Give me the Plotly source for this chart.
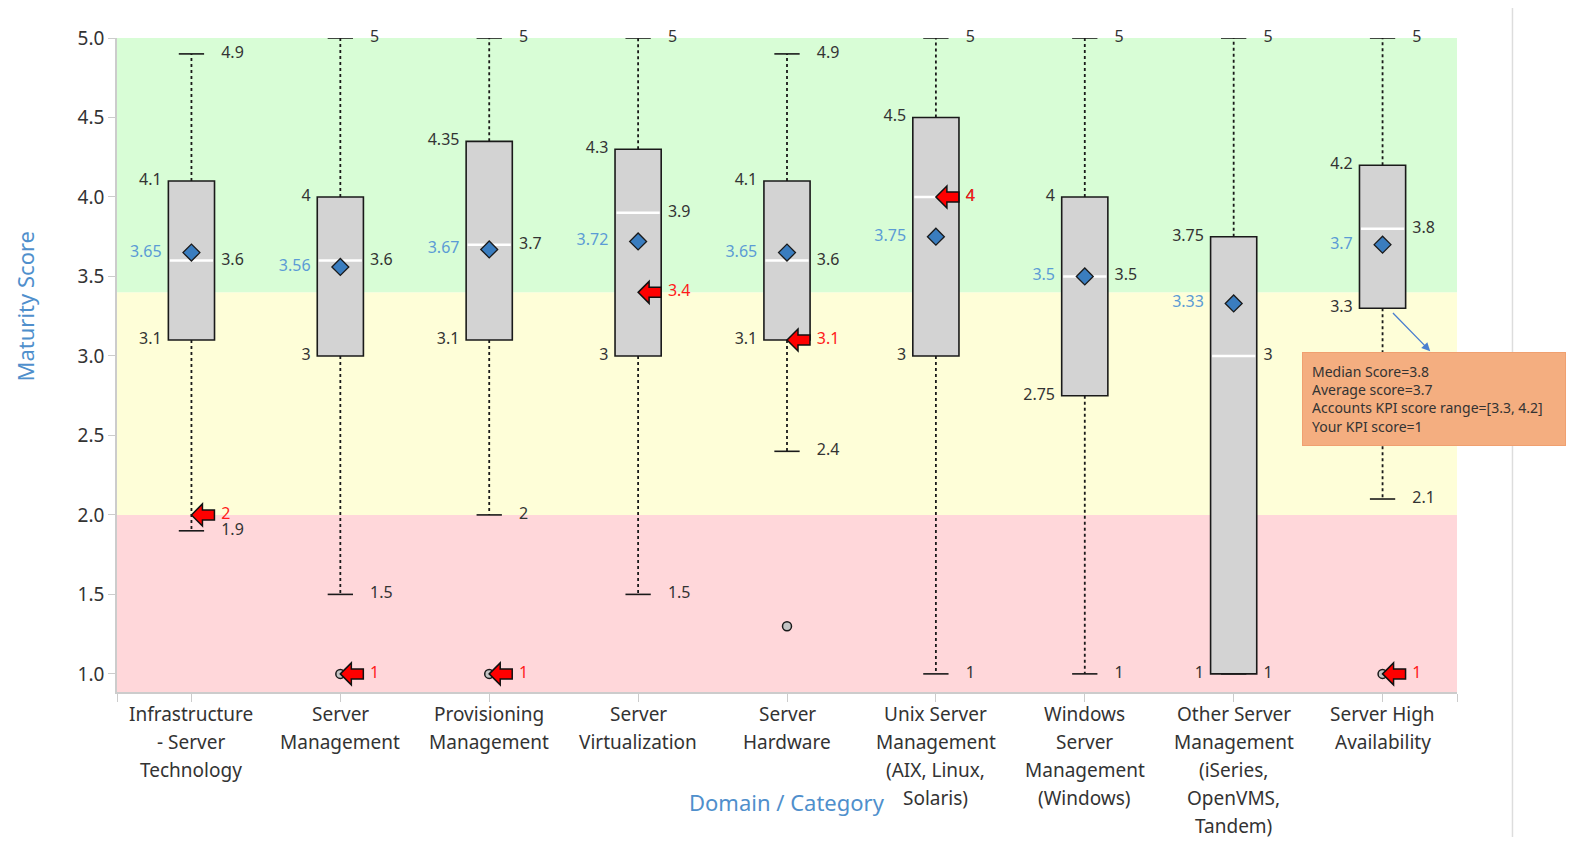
import plotly.graph_objects as go

# box statistics per domain
categories = [
    ["Infrastructure", "- Server", "Technology"],
    ["Server", "Management"],
    ["Provisioning", "Management"],
    ["Server", "Virtualization"],
    ["Server", "Hardware"],
    ["Unix Server", "Management", "(AIX, Linux,", "Solaris)"],
    ["Windows", "Server", "Management", "(Windows)"],
    ["Other Server", "Management", "(iSeries,", "OpenVMS,", "Tandem)"],
    ["Server High", "Availability"],
]
lower = [1.9, 1.5, 2.0, 1.5, 2.4, 1.0, 1.0, 1.0, 2.1]
q1 = [3.1, 3.0, 3.1, 3.0, 3.1, 3.0, 2.75, 1.0, 3.3]
median = [3.6, 3.6, 3.7, 3.9, 3.6, 4.0, 3.5, 3.0, 3.8]
q3 = [4.1, 4.0, 4.35, 4.3, 4.1, 4.5, 4.0, 3.75, 4.2]
upper = [4.9, 5.0, 5.0, 5.0, 4.9, 5.0, 5.0, 5.0, 5.0]
mean = [3.65, 3.56, 3.67, 3.72, 3.65, 3.75, 3.5, 3.33, 3.7]
kpi = [2, 1, 1, 3.4, 3.1, 4, None, None, 1]
outliers = [None, 1.0, 1.0, None, 1.3, None, None, None, 1.0]

# maturity bands: edges and colours (red / yellow / green)
band_edges = [0.886, 2.0, 3.4, 5.0]
band_colors = ["#ffd7da", "#fefed8", "#d8fdd6"]

y_ticks = [1.0, 1.5, 2.0, 2.5, 3.0, 3.5, 4.0, 4.5, 5.0]

DARK = "#333333"
BLUE = "#5b9bd5"
RED = "#ff1a1a"
TITLE_BLUE = "#4f8fcc"
FONT = "Noto Sans"

n = len(categories)
xs = list(range(n))
half = 0.155
cap = 0.085


def fmt(v):
    return f"{v:g}"


fig = go.Figure()

# boxes
fig.add_trace(go.Bar(
    x=xs, y=[b - a for a, b in zip(q1, q3)], base=q1, width=2 * half,
    marker=dict(color="#d3d3d3", line=dict(color="#1a1a1a", width=1.6)),
    hoverinfo="skip", showlegend=False,
))

# whiskers (dashed), caps and medians
wx, wy, cx, cy, mx, my = [], [], [], [], [], []
for i in xs:
    wx += [i, i, None, i, i, None]
    wy += [q3[i], upper[i], None, q1[i], lower[i], None]
    cx += [i - cap, i + cap, None, i - cap, i + cap, None]
    cy += [upper[i], upper[i], None, lower[i], lower[i], None]
    mx += [i - half + 0.01, i + half - 0.01, None]
    my += [median[i], median[i], None]
fig.add_trace(go.Scatter(x=wx, y=wy, mode="lines", cliponaxis=False,
                         line=dict(color="#1a1a1a", width=1.8, dash="3px,3px"),
                         hoverinfo="skip", showlegend=False))
fig.add_trace(go.Scatter(x=cx, y=cy, mode="lines", cliponaxis=False,
                         line=dict(color="#1a1a1a", width=1.6),
                         hoverinfo="skip", showlegend=False))
fig.add_trace(go.Scatter(x=mx, y=my, mode="lines",
                         line=dict(color="white", width=2.5),
                         hoverinfo="skip", showlegend=False))

# outliers
fig.add_trace(go.Scatter(
    x=[i for i in xs if outliers[i] is not None],
    y=[v for v in outliers if v is not None],
    mode="markers", marker=dict(symbol="circle", size=9, color="#c4c4c4",
                                line=dict(color="#1a1a1a", width=1.5)),
    showlegend=False,
))

# means
fig.add_trace(go.Scatter(
    x=xs, y=mean, mode="markers",
    marker=dict(symbol="diamond", size=13, color="#3a7dbf",
                line=dict(color="#1a1a1a", width=1.3)),
    showlegend=False,
))

# value labels
right_off = 0.2
left_off = -0.2


def labels(x, y, txt, pos, color):
    fig.add_trace(go.Scatter(
        x=x, y=y, text=txt, mode="text", textposition=pos, cliponaxis=False,
        textfont=dict(family=FONT, size=16, color=color),
        hoverinfo="skip", showlegend=False,
    ))


labels([i + right_off for i in xs], upper, [fmt(v) for v in upper], "middle right", DARK)
labels([i + right_off for i in xs], median, [fmt(v) for v in median], "middle right", DARK)
labels([i + right_off for i in xs], lower, [fmt(v) for v in lower], "middle right", DARK)
labels([i + left_off for i in xs], q3, [fmt(v) for v in q3], "middle left", DARK)
labels([i + left_off for i in xs], q1, [fmt(v) for v in q1], "middle left", DARK)
labels([i + left_off for i in xs], mean, [fmt(v) for v in mean], "middle left", BLUE)
kx = [i for i in xs if kpi[i] is not None]
ky = [kpi[i] for i in kx]
labels([i + right_off for i in kx], ky, [fmt(v) for v in ky], "middle right", RED)

shapes = []
for lo, hi, col in zip(band_edges[:-1], band_edges[1:], band_colors):
    shapes.append(dict(type="rect", xref="paper", yref="y", x0=0, x1=1, y0=lo, y1=hi,
                       fillcolor=col, line=dict(width=0), layer="below"))

# KPI arrows (block arrow glyph anchored at the score)
arrow_path = "M 0 0 L 11 11 L 11 5 L 23 5 L 23 -5 L 11 -5 L 11 -11 Z"
for i, v in zip(kx, ky):
    shapes.append(dict(type="path", xref="x", yref="y", xsizemode="pixel", ysizemode="pixel",
                       xanchor=i, yanchor=v, path=arrow_path, fillcolor="#ff0000",
                       line=dict(color="#111111", width=1.5), layer="above"))

# right-hand panel divider
shapes.append(dict(type="line", xref="paper", yref="paper", x0=1.0414, x1=1.0414,
                   y0=-0.25, y1=1.06, line=dict(color="#dddddd", width=1.5)))

ha = n - 1
tip_text = (f"Median Score={fmt(median[ha])}<br>Average score={fmt(mean[ha])}<br>"
            f"Accounts KPI score range=[{fmt(q1[ha])}, {fmt(q3[ha])}]<br>"
            f"Your KPI score={fmt(kpi[ha])}")

annotations = [
    dict(text="Domain / Category", xref="paper", yref="paper", x=0.5, y=-0.168,
         xanchor="center", yanchor="middle",
         showarrow=False, font=dict(family=FONT, size=22, color=TITLE_BLUE)),
    dict(text="Maturity Score", xref="paper", yref="paper", x=-0.0684, y=0.59,
         xanchor="center", yanchor="middle",
         textangle=-90, showarrow=False, font=dict(family=FONT, size=22, color=TITLE_BLUE)),
    dict(text="", x=ha + 0.32, y=3.03, ax=ha + 0.06, ay=q1[ha] - 0.02,
         xref="x", yref="y", axref="x", ayref="y", showarrow=True,
         arrowhead=2, arrowsize=1.3, arrowwidth=1.3, arrowcolor="#4a7fcf"),
    dict(text=tip_text, xref="paper", yref="paper", x=0.8844, y=0.52,
         xanchor="left", yanchor="top", align="left", showarrow=False,
         bgcolor="#f4ae80", bordercolor="#f0a070", borderwidth=1, borderpad=9,
         width=244, font=dict(family=FONT, size=14, color=DARK)),
]

# category labels, one line at a time for the wider line spacing
for i, lines in enumerate(categories):
    for k, line in enumerate(lines):
        annotations.append(dict(
            text=line, xref="x", yref="paper", x=i, y=0, yanchor="middle",
            yshift=-22 - 28 * k, showarrow=False,
            font=dict(family=FONT, size=19, color=DARK),
        ))

fig.update_layout(
    width=1562, height=829,
    margin=dict(l=109, r=113, t=30, b=145),
    plot_bgcolor="white", paper_bgcolor="white",
    font=dict(family=FONT, color=DARK),
    shapes=shapes, annotations=annotations,
    showlegend=False,
    xaxis=dict(
        range=[-0.5, n - 0.5], tickmode="array",
        tickvals=[-0.5] + xs + [n - 0.5], ticktext=[""] * (n + 2),
        ticks="outside", ticklen=8, tickcolor="#cccccc",
        showline=True, linecolor="#cccccc", linewidth=1.5,
        showgrid=False, zeroline=False,
    ),
    yaxis=dict(
        range=[band_edges[0], 5.0], tickmode="array", tickvals=y_ticks,
        ticktext=[f"{v:.1f}" for v in y_ticks],
        ticks="outside", ticklen=7, tickcolor="#cccccc",
        showline=True, linecolor="#cccccc", linewidth=1.5,
        showgrid=False, zeroline=False,
        tickfont=dict(family=FONT, size=19, color=DARK),
    ),
)

fig.write_html("out.html")
